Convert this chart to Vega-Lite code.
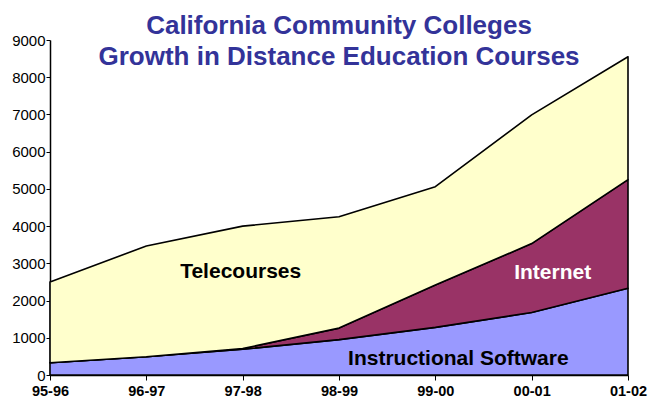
{
  "$schema": "https://vega.github.io/schema/vega-lite/v6.json",
  "width": 578,
  "height": 335,
  "autosize": "none",
  "padding": {"left": 50, "top": 40, "right": 24, "bottom": 26},
  "background": "white",
  "title": {
    "text": ["California Community Colleges", "Growth in Distance Education Courses"],
    "font": "Liberation Sans",
    "fontSize": 26,
    "fontWeight": "bold",
    "color": "#333399",
    "lineHeight": 31,
    "anchor": "middle",
    "frame": "group",
    "offset": -37
  },
  "config": {"view": {"stroke": null}},
  "resolve": {"axis": {"y": "independent"}},
  "datasets": {
    "labels": [
      {"year": "97-98", "value": 2600, "label": "Telecourses"},
      {"year": "00-01", "value": 2580, "label": "Internet"},
      {"year": "99-00", "value": 270, "label": "Instructional Software"}
    ]
  },
  "encoding": {
    "x": {
      "field": "year", "type": "ordinal",
      "sort": ["95-96", "96-97", "97-98", "98-99", "99-00", "00-01", "01-02"],
      "scale": {"type": "point", "padding": 0},
      "axis": {
        "title": null, "labelAngle": 0, "domainColor": "black", "domainWidth": 1.5,
        "tickColor": "black", "tickSize": 5, "labelFont": "Liberation Sans",
        "labelFontSize": 14.5, "labelFontWeight": "bold", "labelColor": "black",
        "labelPadding": 4, "grid": false, "labelOverlap": false
      }
    }
  },
  "layer": [
    {
      "data": {"values": [
        {"year": "95-96", "type": "Instructional Software", "k": 1, "value": 330},
        {"year": "96-97", "type": "Instructional Software", "k": 1, "value": 490},
        {"year": "97-98", "type": "Instructional Software", "k": 1, "value": 690},
        {"year": "98-99", "type": "Instructional Software", "k": 1, "value": 950},
        {"year": "99-00", "type": "Instructional Software", "k": 1, "value": 1280},
        {"year": "00-01", "type": "Instructional Software", "k": 1, "value": 1680},
        {"year": "01-02", "type": "Instructional Software", "k": 1, "value": 2330},
        {"year": "95-96", "type": "Internet", "k": 2, "value": 0},
        {"year": "96-97", "type": "Internet", "k": 2, "value": 0},
        {"year": "97-98", "type": "Internet", "k": 2, "value": 20},
        {"year": "98-99", "type": "Internet", "k": 2, "value": 310},
        {"year": "99-00", "type": "Internet", "k": 2, "value": 1140},
        {"year": "00-01", "type": "Internet", "k": 2, "value": 1850},
        {"year": "01-02", "type": "Internet", "k": 2, "value": 2920},
        {"year": "95-96", "type": "Telecourses", "k": 3, "value": 2170},
        {"year": "96-97", "type": "Telecourses", "k": 3, "value": 2975},
        {"year": "97-98", "type": "Telecourses", "k": 3, "value": 3290},
        {"year": "98-99", "type": "Telecourses", "k": 3, "value": 2990},
        {"year": "99-00", "type": "Telecourses", "k": 3, "value": 2640},
        {"year": "00-01", "type": "Telecourses", "k": 3, "value": 3460},
        {"year": "01-02", "type": "Telecourses", "k": 3, "value": 3300}
      ]},
      "mark": {"type": "area", "stroke": "black", "strokeWidth": 1.6, "strokeJoin": "round"},
      "encoding": {
        "y": {
          "field": "value", "type": "quantitative", "stack": "zero",
          "scale": {"domain": [0, 9000], "nice": false},
          "axis": {
            "title": null, "values": [0, 1000, 2000, 3000, 4000, 5000, 6000, 7000, 8000, 9000],
            "format": "d", "labelOverlap": false, "labelFlush": false,
            "domainColor": "black", "domainWidth": 1.5, "tickColor": "black", "tickSize": 4,
            "labelFont": "Liberation Sans", "labelFontSize": 15, "labelColor": "black",
            "labelPadding": 1, "grid": false
          }
        },
        "fill": {
          "field": "type", "type": "nominal",
          "scale": {"domain": ["Instructional Software", "Internet", "Telecourses"], "range": ["#9999FF", "#993366", "#FFFFCC"]},
          "legend": null
        },
        "order": {"field": "k", "type": "quantitative"}
      }
    },
    {
      "data": {"name": "labels"},
      "transform": [{"filter": "datum.label === 'Telecourses'"}],
      "mark": {"type": "text", "font": "Liberation Sans", "fontSize": 21, "fontWeight": "bold", "baseline": "alphabetic", "align": "center", "color": "black", "dx": -2},
      "encoding": {"y": {"field": "value", "type": "quantitative", "axis": null}, "text": {"field": "label"}}
    },
    {
      "data": {"name": "labels"},
      "transform": [{"filter": "datum.label === 'Internet'"}],
      "mark": {"type": "text", "font": "Liberation Sans", "fontSize": 21, "fontWeight": "bold", "baseline": "alphabetic", "align": "center", "color": "white", "dx": 21},
      "encoding": {"y": {"field": "value", "type": "quantitative", "axis": null}, "text": {"field": "label"}}
    },
    {
      "data": {"name": "labels"},
      "transform": [{"filter": "datum.label === 'Instructional Software'"}],
      "mark": {"type": "text", "font": "Liberation Sans", "fontSize": 21, "fontWeight": "bold", "baseline": "alphabetic", "align": "center", "color": "black", "dx": 23},
      "encoding": {"y": {"field": "value", "type": "quantitative", "axis": null}, "text": {"field": "label"}}
    }
  ]
}
